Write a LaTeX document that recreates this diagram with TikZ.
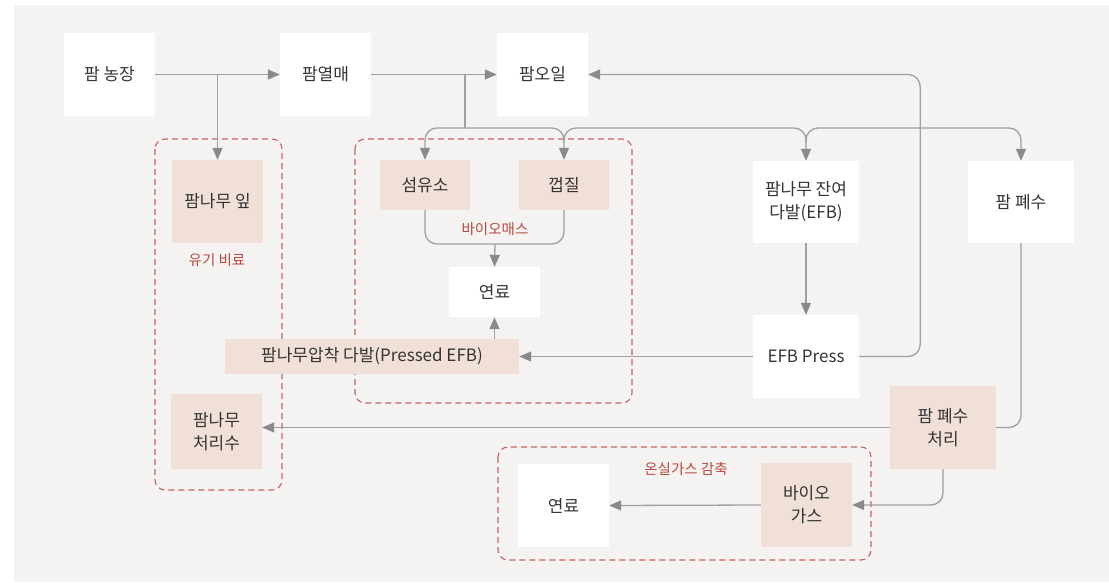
\documentclass[tikz,border=0pt]{standalone}
\usepackage{fontspec}
\setmainfont{Noto Sans CJK KR}
\usetikzlibrary{arrows.meta}
\definecolor{bggray}{RGB}{245,243,241}
\definecolor{pinkfill}{RGB}{240,224,216}
\definecolor{linegray}{RGB}{160,160,160}
\definecolor{tipgray}{RGB}{138,138,138}
\definecolor{groupred}{RGB}{198,98,98}
\definecolor{labelred}{RGB}{185,72,62}
\definecolor{textgray}{RGB}{52,52,52}

\begin{document}
\begin{tikzpicture}[x=1pt, y=-1pt]
	\tikzstyle{every node}=[font=\fontsize{17}{23}\selectfont, text=textgray, align=center, inner sep=0pt];
	\tikzstyle{whitebox}=[fill=white, minimum width=91pt, minimum height=83pt];
	\tikzstyle{pinkbox}=[fill=pinkfill, minimum width=91pt, minimum height=83pt];
	\tikzstyle{line}=[draw=linegray, line width=1.3pt];
	\tikzstyle{arrow}=[line, -{Triangle[length=12pt, width=10pt, color=tipgray]}];
	\tikzstyle{group}=[draw=groupred, line width=1.1pt, dash pattern=on 6pt off 4pt, rounded corners=10pt];
	\tikzstyle{grouplabel}=[font=\fontsize{14.5}{17}\selectfont, text=labelred];
	\useasboundingbox (0,0) rectangle (1109,582);
	\path [fill=bggray] (14,5) rectangle (1109,582);

	% groups
	\draw [group] (155,139) rectangle (282,490);
	\draw [group] (355,139) rectangle (632,403);
	\draw [group] (498,447) rectangle (871,560);
	\node [grouplabel] (fertilizer) at (217,260) {유기 비료};
	\node [grouplabel] (biomass) at (495,229) {바이오매스};
	\node [grouplabel] (ghg) at (686,469) {온실가스 감축};

	% top row
	\node [whitebox] (farm) at (109.5,74.5) {팜 농장};
	\node [whitebox] (fruit) at (325.5,74.5) {팜열매};
	\node [whitebox] (oil) at (542.5,74.5) {팜오일};

	\node [pinkbox] (leaf) at (217.5,201.5) {팜나무 잎};
	\node [pinkbox, minimum width=90pt, minimum height=50pt] (fiber) at (425,185) {섬유소};
	\node [pinkbox, minimum width=90pt, minimum height=50pt] (shell) at (564,185) {껍질};
	\node [whitebox, minimum height=50pt] (fuelA) at (494.5,292) {연료};
	\node [pinkbox, minimum width=294pt, minimum height=35pt] (pressed) at (372,356.5) {팜나무압착 다발(Pressed EFB)};
	\node [whitebox, minimum width=106pt, minimum height=82pt] (efb) at (806,202) {팜나무 잔여\\다발(EFB)};
	\node [whitebox, minimum width=106pt, minimum height=82pt] (waste) at (1021,202) {팜 폐수};
	\node [whitebox, minimum width=106pt] (press) at (806,356.5) {EFB Press};
	\node [pinkbox, minimum height=75pt] (effluent) at (216.5,431.5) {팜나무\\처리수};
	\node [pinkbox, minimum width=106pt] (treat) at (943,427.5) {팜 폐수\\처리};
	\node [pinkbox, minimum height=84pt] (biogas) at (806.5,505) {바이오\\가스};
	\node [whitebox] (fuelB) at (563.5,505.5) {연료};

	\coordinate (split) at (465,128);
	\coordinate (merge) at (495,244);

	% connectors
	\draw [arrow] (farm.east) -- (fruit.west);
	\draw [arrow] (leaf.north |- farm.east) -- (leaf.north);
	\draw [arrow] (fruit.east) -- (oil.west);
	\draw [line] (split |- fruit.east) -- (split);
	\draw [arrow, rounded corners=12pt] (split) -| (fiber.north);
	\draw [arrow, rounded corners=12pt] (split) -| (shell.north);
	\draw [arrow, rounded corners=12pt] (shell.north) ++(0,-18) |- (efb.north |- split) -- (efb.north);
	\draw [arrow, rounded corners=12pt] (efb.north) ++(0,-18) |- (waste.north |- split) -- (waste.north);
	\draw [line, rounded corners=12pt] (fiber.south) |- (merge);
	\draw [line, rounded corners=12pt] (shell.south) |- (merge);
	\draw [arrow] (merge) -- (fuelA.north);
	\draw [arrow] (efb.south) -- (press.north);
	\draw [arrow] (press.west) -- (pressed.east);
	\draw [arrow] (fuelA.south |- pressed.north) -- (fuelA.south);
	\draw [arrow, rounded corners=12pt] (press.east) -- ++(61,0) |- (oil.east);
	\draw [line, rounded corners=12pt] (waste.south) |- (treat.east);
	\draw [arrow] (treat.west) -- (effluent.east |- treat.west);
	\draw [arrow, rounded corners=12pt] (treat.south) |- (biogas.east);
	\draw [arrow] (biogas.west) -- (fuelB.east);
\end{tikzpicture}
\end{document}
